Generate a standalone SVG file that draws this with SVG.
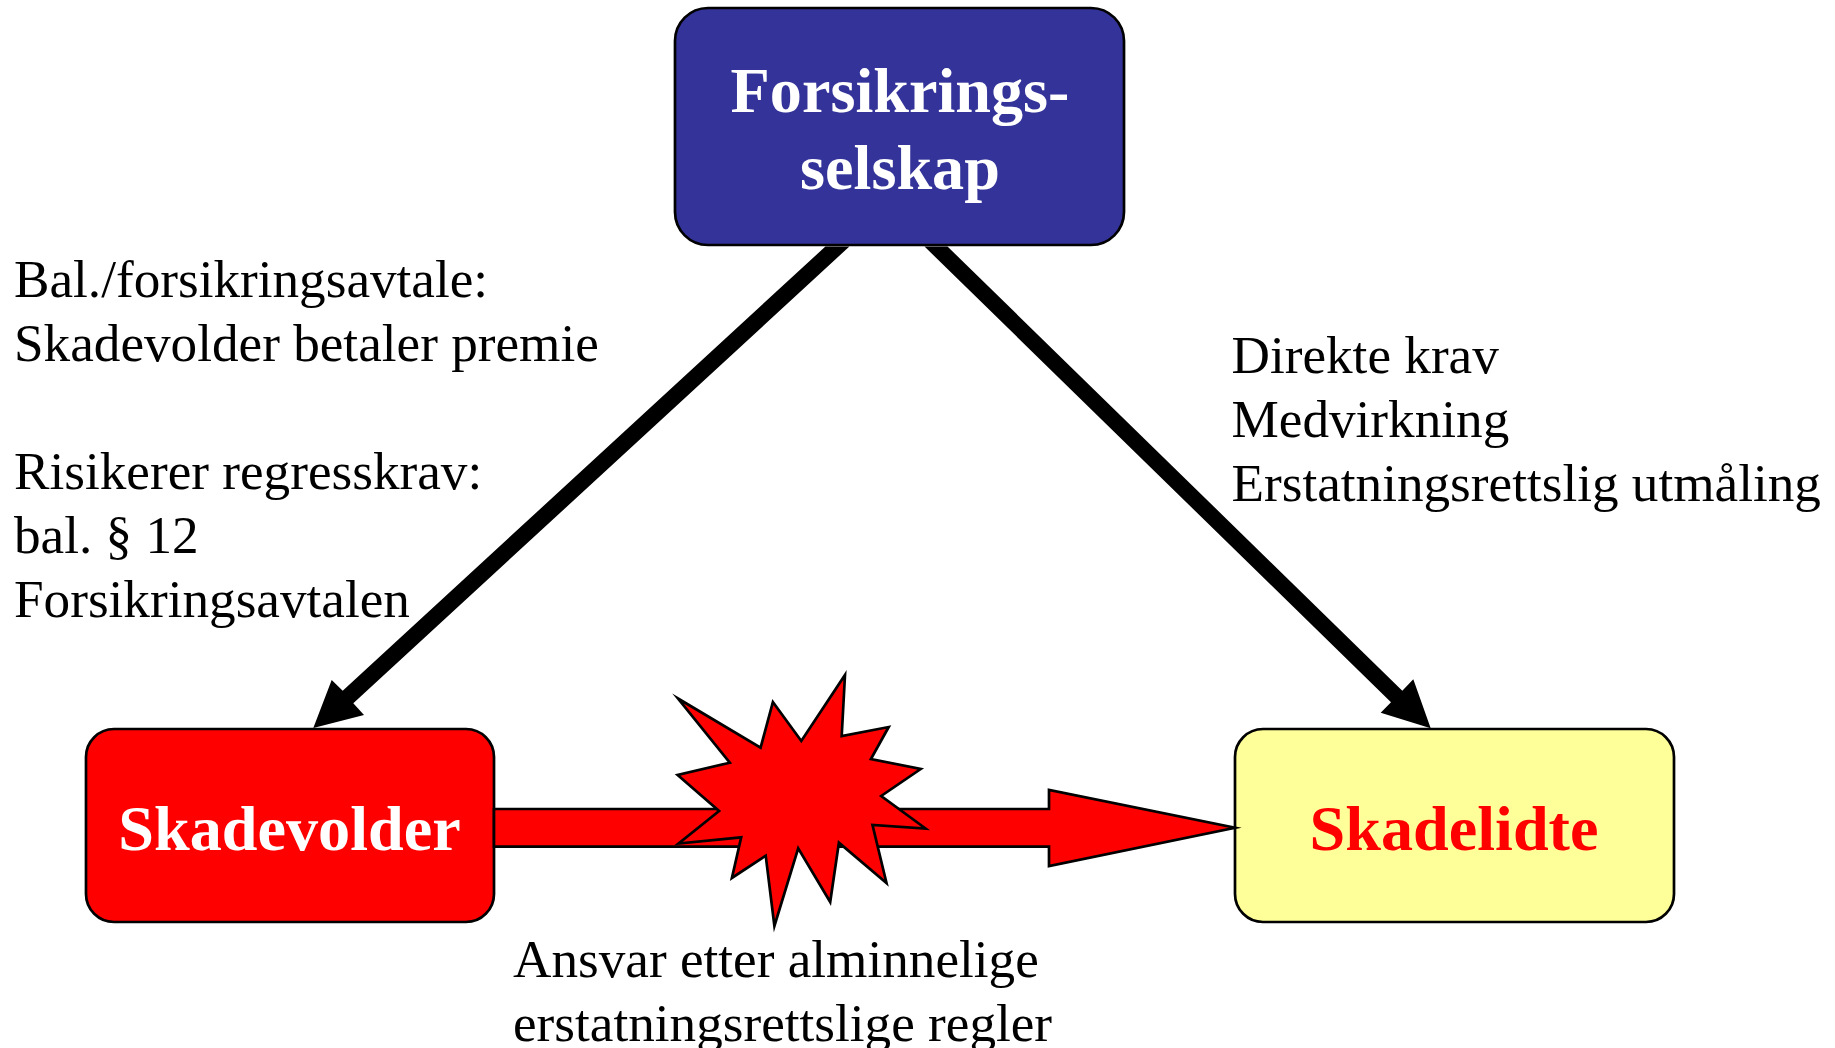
<svg xmlns="http://www.w3.org/2000/svg" width="1835" height="1048" viewBox="0 0 1835 1048">
<style>
text{font-family:"Liberation Serif","Times New Roman",serif}
.box{stroke:#000;stroke-width:2.7}
.h{font-size:64.2px;font-weight:bold;text-anchor:middle}
.t{font-size:53.2px;fill:#000}
.red{fill:#f00;stroke:#000;stroke-width:2.7;stroke-linejoin:miter;stroke-miterlimit:12}
</style>
<rect width="1835" height="1048" fill="#fff"/>
<g id="node-forsikringsselskap">
<rect class="box" x="675" y="8" width="449" height="237" rx="33" fill="#333399"/>
<text class="h" x="900" y="112" fill="#fff">Forsikrings-</text>
<text class="h" x="900" y="189" fill="#fff">selskap</text>
</g>
<g id="node-skadevolder">
<rect class="box" x="86" y="729" width="408" height="193" rx="28" fill="#f00"/>
<text class="h" x="289.5" y="849.5" fill="#fff">Skadevolder</text>
</g>
<g id="node-skadelidte">
<rect class="box" x="1235" y="729" width="439" height="193" rx="28" fill="#ffff99"/>
<text class="h" x="1454" y="849.5" fill="#f00">Skadelidte</text>
</g>
<g id="connectors">
<polygon id="arrow-left" points="849.4,246.5 825.4,246.5 342.7,690.7 331.7,680 313.3,728 364,715 353.3,703.3" fill="#000"/>
<polygon id="arrow-right" points="924.5,246.5 947.5,246.5 1402.3,690.7 1413.3,679.3 1430.7,728.3 1380.7,712.7 1391,702.3" fill="#000"/>
<polygon id="arrow-red" class="red" points="494,809 1049,809 1049,790 1235,827.7 1049,866 1049,846.7 494,846.7"/>
</g>
<g id="explosion">
<polygon class="red" points="678,698.5 760.6,747.7 772.9,702 801.3,741 845,675 841.7,736 888.7,727 870.9,759 920.7,769 881.2,796 925.6,828.5 872.5,825 886.5,883 838.9,842.7 830.2,902 798.2,848.3 774.4,926 765.7,855.7 731.9,878 741.2,837.3 678.6,843.5 719.1,811 677.6,775 729.8,762.7"/>
</g>
<g id="labels">
<text class="t" x="14" y="297">Bal./forsikringsavtale:</text>
<text class="t" x="14" y="361">Skadevolder betaler premie</text>
<text class="t" x="14" y="489">Risikerer regresskrav:</text>
<text class="t" x="14" y="553">bal. § 12</text>
<text class="t" x="14" y="617">Forsikringsavtalen</text>
<text class="t" x="1231.5" y="372.5">Direkte krav</text>
<text class="t" x="1231.5" y="436.5">Medvirkning</text>
<text class="t" x="1231.5" y="500.5">Erstatningsrettslig utmåling</text>
<text class="t" x="513" y="977">Ansvar etter alminnelige</text>
<text class="t" x="513" y="1041">erstatningsrettslige regler</text>
</g>
</svg>
